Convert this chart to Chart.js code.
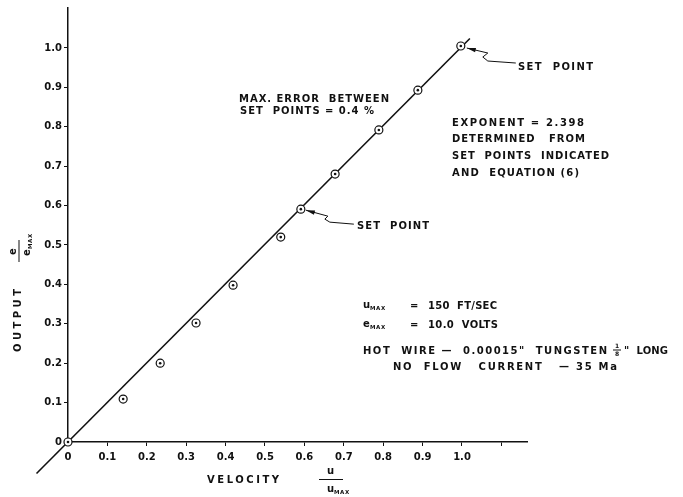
<!DOCTYPE html>
<html>
<head>
<meta charset="utf-8">
<script src="https://cdn.jsdelivr.net/npm/chart.js@4.4.1/dist/chart.umd.min.js"></script>
<style>
  body { margin: 0; background: #fff; }
  canvas { display: block; }
</style>
</head>
<body>
<canvas id="myChart" width="683" height="497"></canvas>
<script>
'use strict';
/*---------------------------------*/
/*--------------Data---------------*/
/*---------------------------------*/
let velocity = [0, 0.14, 0.234, 0.325, 0.419, 0.54, 0.591, 0.678, 0.789, 0.888, 0.997];
let output = [0, 0.109, 0.2, 0.302, 0.398, 0.52, 0.591, 0.68, 0.792, 0.893, 1.005];
// straight line drawn through the set points
let fitVelocity = [-0.08, 1.02];
let fitOutput = [-0.08, 1.024];
// indexes of the two set points
let setPoints = [6, 10];
let xTicks = [0, 0.1, 0.2, 0.3, 0.4, 0.5, 0.6, 0.7, 0.8, 0.9, 1.0, 1.1];
let xTickLabels = ['0', '0.1', '0.2', '0.3', '0.4', '0.5', '0.6', '0.7', '0.8', '0.9', '1.0', ''];
let yTicks = [0, 0.1, 0.2, 0.3, 0.4, 0.5, 0.6, 0.7, 0.8, 0.9, 1.0];
let yTickLabels = ['0', '0.1', '0.2', '0.3', '0.4', '0.5', '0.6', '0.7', '0.8', '0.9', '1.0'];

const FONT = '"DejaVu Sans", sans-serif';
const INK = '#111';

function toPoints(xs, ys) {
  let pts = [];
  for (let i = 0; i < xs.length; i++) {
    pts.push({ x: xs[i], y: ys[i] });
  }
  return pts;
}

/*---------------------------------*/
/*--------Drawing helpers----------*/
/*---------------------------------*/
function text(ctx, str, x, y, size, spacing) {
  ctx.font = 'bold ' + size + 'px ' + FONT;
  ctx.letterSpacing = (spacing || 0) + 'px';
  ctx.textAlign = 'left';
  ctx.textBaseline = 'middle';
  ctx.fillText(str, x, y);
}

// lettering stretched (by spacing) or squeezed to run from x over the given width
function fitText(ctx, str, x, y, size, width) {
  ctx.font = 'bold ' + size + 'px ' + FONT;
  ctx.letterSpacing = '0px';
  let w = ctx.measureText(str).width;
  let sp = (width - w) / (str.length - 1);
  if (sp >= 0) {
    text(ctx, str, x, y, size, sp);
  } else {
    ctx.save();
    ctx.translate(x, y);
    ctx.scale(width / w, 1);
    text(ctx, str, 0, 0, size, 0);
    ctx.restore();
  }
}

// writes a letter with a small "MAX" below right of it
function withMax(ctx, letter, x, y) {
  text(ctx, letter, x, y - 1, 10, 0);
  text(ctx, 'MAX', x + 7, y + 3, 5.5, 0.6);
}

// polyline with a filled arrow head at the first point
function leader(ctx, pts) {
  ctx.lineWidth = 1;
  ctx.beginPath();
  ctx.moveTo(pts[0][0], pts[0][1]);
  for (let i = 1; i < pts.length; i++) {
    ctx.lineTo(pts[i][0], pts[i][1]);
  }
  ctx.stroke();
  let dx = pts[1][0] - pts[0][0];
  let dy = pts[1][1] - pts[0][1];
  let len = Math.sqrt(dx * dx + dy * dy);
  let ux = dx / len, uy = dy / len;
  ctx.beginPath();
  ctx.moveTo(pts[0][0], pts[0][1]);
  ctx.lineTo(pts[0][0] + ux * 9 - uy * 2.2, pts[0][1] + uy * 9 + ux * 2.2);
  ctx.lineTo(pts[0][0] + ux * 9 + uy * 2.2, pts[0][1] + uy * 9 - ux * 2.2);
  ctx.closePath();
  ctx.fill();
}

/*---------------------------------*/
/*-------Annotation plugin---------*/
/*---------------------------------*/
const annotations = {
  id: 'annotations',
  afterDraw(chart) {
    const ctx = chart.ctx;
    const xs = chart.scales.x;
    const ys = chart.scales.y;
    ctx.save();
    ctx.fillStyle = INK;
    ctx.strokeStyle = INK;

    // set point leaders
    let top = setPoints[1];
    let tx = xs.getPixelForValue(velocity[top]) + 6;
    let ty = ys.getPixelForValue(output[top]) + 2;
    leader(ctx, [[tx, ty], [tx + 21, ty + 5], [tx + 16, ty + 9], [tx + 21, ty + 13], [tx + 49, ty + 15]]);
    fitText(ctx, 'SET  POINT', 518, 67, 10, 75);

    let mid = setPoints[0];
    let mx = xs.getPixelForValue(velocity[mid]) + 5;
    let my = ys.getPixelForValue(output[mid]) + 1;
    leader(ctx, [[mx, my], [mx + 22, my + 6], [mx + 19, my + 9], [mx + 24, my + 12], [mx + 48, my + 14]]);
    fitText(ctx, 'SET  POINT', 357, 226, 10, 72);

    fitText(ctx, 'MAX. ERROR  BETWEEN', 239, 99, 10, 150);
    fitText(ctx, 'SET  POINTS = 0.4 %', 240, 111, 10, 134);

    fitText(ctx, 'EXPONENT = 2.398', 452, 123, 10, 132);
    fitText(ctx, 'DETERMINED   FROM', 452, 139, 10, 133);
    fitText(ctx, 'SET  POINTS  INDICATED', 452, 156, 10, 157);
    fitText(ctx, 'AND  EQUATION (6)', 452, 173, 10, 127);

    // run conditions
    withMax(ctx, 'u', 363, 306);
    text(ctx, '=', 410, 306, 10, 0);
    fitText(ctx, '150  FT/SEC', 428, 306, 10, 69);
    withMax(ctx, 'e', 363, 325);
    text(ctx, '=', 410, 325, 10, 0);
    fitText(ctx, '10.0  VOLTS', 428, 325, 10, 70);
    fitText(ctx, 'HOT  WIRE \u2014  0.00015"  TUNGSTEN', 363, 351, 10, 244);
    text(ctx, '1', 615, 346, 6, 0);
    ctx.fillRect(613, 349.5, 8, 1);
    text(ctx, '8', 615, 354, 6, 0);
    fitText(ctx, '"  LONG', 624, 351, 10, 44);
    fitText(ctx, 'NO  FLOW   CURRENT   \u2014 35 Ma', 393, 367, 10, 224);

    // x axis title
    fitText(ctx, 'VELOCITY', 207, 480, 10, 72);
    text(ctx, 'u', 327, 471, 10, 0);
    ctx.fillRect(319, 479, 24, 1);
    withMax(ctx, 'u', 327, 490);

    // y axis title, written upwards
    ctx.translate(18, 320);
    ctx.rotate(-Math.PI / 2);
    fitText(ctx, 'OUTPUT', -32, 0, 10, 63);
    ctx.setTransform(1, 0, 0, 1, 0, 0);
    ctx.translate(19, 252);
    ctx.rotate(-Math.PI / 2);
    text(ctx, 'e', -3, -6, 10, 0);
    ctx.fillRect(-10, -0.5, 22, 1);
    withMax(ctx, 'e', -4, 9);
    ctx.restore();
  }
};

/*---------------------------------*/
/*----------ChartJS Render---------*/
/*---------------------------------*/
function renderChart() {
  const data = {
    datasets: [
      {
        label: 'dot',
        data: toPoints(velocity, output),
        pointRadius: 1.3,
        pointBackgroundColor: INK,
        pointBorderWidth: 0,
        showLine: false,
        clip: false,
        order: 1,
      },
      {
        label: 'measured',
        data: toPoints(velocity, output),
        pointRadius: 4,
        pointBackgroundColor: '#fff',
        pointBorderColor: INK,
        pointBorderWidth: 1.2,
        showLine: false,
        clip: false,
        order: 2,
      },
      {
        label: 'fit',
        data: toPoints(fitVelocity, fitOutput),
        borderColor: INK,
        borderWidth: 1.6,
        pointRadius: 0,
        showLine: true,
        clip: false,
        order: 3,
      },
    ],
  };

  const tickFont = { family: FONT, size: 10, weight: 'bold' };

  const config = {
    type: 'scatter',
    data: data,
    options: {
      responsive: false,
      animation: false,
      layout: { padding: { left: 28, right: 156, top: 8, bottom: 25 } },
      plugins: {
        legend: { display: false },
        tooltip: { enabled: false },
      },
      scales: {
        x: {
          type: 'linear',
          min: 0,
          max: 1.165,
          afterBuildTicks: (scale) => { scale.ticks = xTicks.map((v) => ({ value: v })); },
          afterFit: (scale) => { scale.height = 30; },
          ticks: {
            color: INK,
            font: tickFont,
            padding: 5,
            maxRotation: 0,
            callback: (value, index) => xTickLabels[index],
          },
          grid: { drawOnChartArea: false, color: INK, tickLength: 4, tickWidth: 1 },
          border: { color: INK, width: 1.5 },
        },
        y: {
          type: 'linear',
          min: 0,
          max: 1.1015,
          afterBuildTicks: (scale) => { scale.ticks = yTicks.map((v) => ({ value: v })); },
          afterFit: (scale) => { scale.width = 40; },
          ticks: {
            color: INK,
            font: tickFont,
            padding: 2,
            callback: (value, index) => yTickLabels[index],
          },
          grid: { drawOnChartArea: false, color: INK, tickLength: 4, tickWidth: 1 },
          border: { color: INK, width: 1.5 },
        },
      },
    },
    plugins: [annotations],
  };
  new Chart(document.getElementById('myChart'), config);
}
renderChart();
</script>
</body>
</html>
